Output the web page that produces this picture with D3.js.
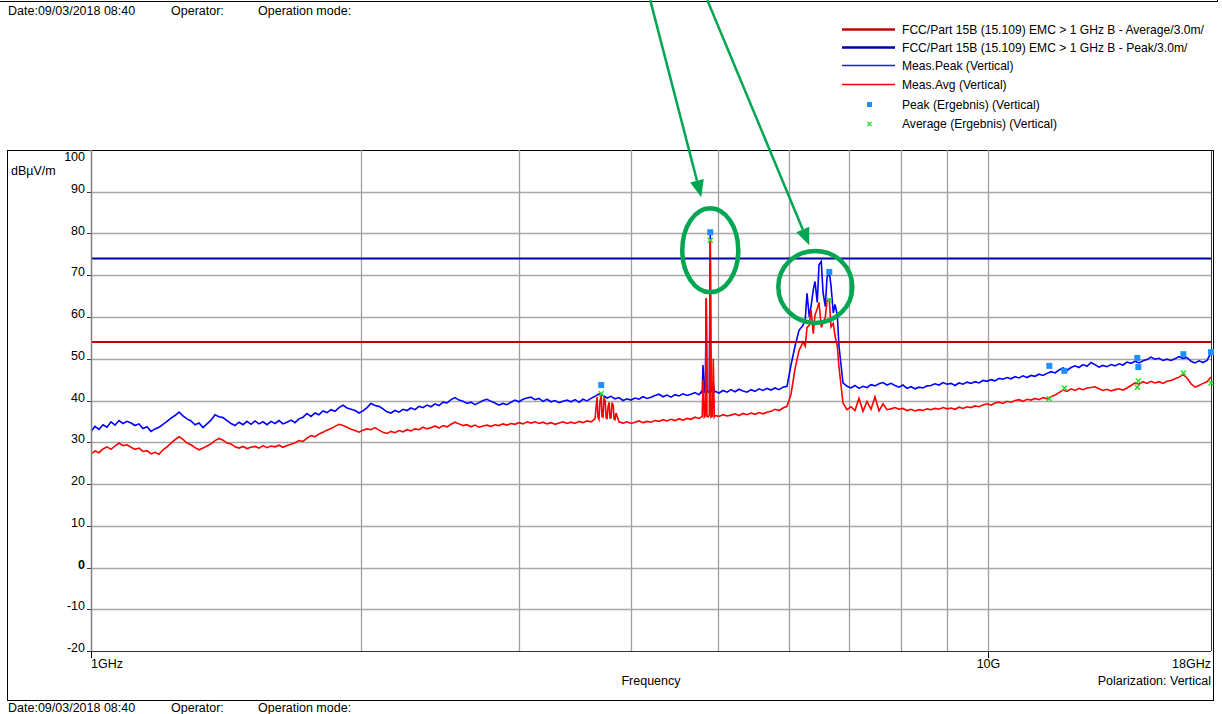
<!DOCTYPE html>
<html>
<head>
<meta charset="utf-8">
<script src="https://cdnjs.cloudflare.com/ajax/libs/d3/7.8.5/d3.min.js"></script>
<style>
body{margin:0;background:#fff;}
svg text{font-family:"Liberation Sans",Arial,sans-serif;font-size:12.5px;fill:#000;}
svg text.leg{font-size:12.1px;}
</style>
</head>
<body>
<svg id="chart" width="1222" height="714"></svg>
<script>
// sweep: log spaced points, 1 GHz .. end of axis
var fStart = 1, fStop = 17.7, nPts = 281;
var yTicks = [100, 90, 80, 70, 60, 50, 40, 30, 20, 10, 0, -10, -20];
var xGridGHz = [2, 3, 4, 5, 6, 7, 8, 9, 10];
var limitAvg = 54, limitPeak = 74;

var peakVals = [
 32.6,33.8,33.1,34.2,33.6,34.9,34.1,35.2,34.5,35.0,
 34.6,34.0,34.4,33.3,33.7,32.6,33.2,33.6,34.3,35.0,
 35.8,36.4,37.2,36.3,35.6,35.1,34.2,34.6,33.5,34.4,
 35.3,36.6,36.1,35.9,35.2,34.5,34.0,34.8,34.2,35.0,
 34.3,35.1,34.4,34.9,34.2,35.0,34.5,35.2,34.4,34.8,
 35.3,34.7,35.6,36.0,36.9,36.2,37.0,36.6,37.5,37.1,
 37.8,37.4,38.3,38.9,38.2,37.9,37.6,37.0,37.5,38.3,
 39.3,38.8,38.6,38.0,37.3,37.0,37.6,37.2,37.9,37.6,
 38.2,37.8,38.6,38.3,38.9,38.5,39.2,38.8,39.6,39.4,
 40.2,40.7,40.1,39.8,39.3,39.6,39.0,39.5,40.0,40.3,
 39.8,39.4,38.9,39.3,39.0,39.6,40.1,39.7,40.3,40.6,
 40.8,40.2,40.5,39.8,40.3,39.7,40.0,39.5,39.8,40.1,
 39.7,40.2,39.6,40.3,39.9,40.5,41.0,41.6,41.2,40.6,
 41.0,40.4,40.7,40.0,40.4,40.1,40.6,40.3,40.9,40.5,
 40.8,41.2,41.5,40.9,41.3,40.8,41.4,41.1,41.6,41.2,
 41.5,41.9,41.4,48.5,42.3,42.1,42.2,41.8,42.4,42.0,
 42.6,42.1,42.7,42.3,42.0,42.6,42.2,42.8,42.4,42.9,
 42.5,43.0,42.6,43.2,43.4,48.5,53.0,56.8,58.0,65.7,
 62.5,68.5,72.5,66.0,69.5,67.5,63.0,53.0,44.2,43.4,
 43.0,43.6,42.9,43.4,43.1,43.8,43.5,44.0,44.3,43.7,
 44.1,43.6,43.2,43.7,42.9,43.3,42.8,43.2,43.0,43.5,
 43.6,44.0,43.7,44.3,43.9,44.1,43.6,44.2,43.9,44.4,
 44.1,44.5,44.2,44.8,44.6,45.0,44.7,45.3,45.1,45.5,
 45.2,45.7,45.4,45.9,45.5,46.0,45.8,46.3,46.0,46.5,
 46.9,46.6,47.3,47.8,47.2,47.9,48.3,47.9,48.6,48.2,
 49.1,48.6,48.0,48.4,48.1,48.6,48.3,48.8,48.5,49.2,
 48.9,49.4,49.0,49.5,49.8,50.4,49.9,50.1,49.6,49.9,
 49.6,50.0,50.5,50.1,50.3,49.4,49.0,49.5,49.1,49.6,
 51.4];

var avgVals = [
 27.2,27.9,27.5,28.4,28.9,28.3,29.1,29.8,29.2,29.4,
 28.8,28.3,28.6,27.8,28.0,27.2,27.6,27.1,28.2,28.9,
 29.8,30.6,31.3,30.7,29.8,29.4,28.7,28.2,28.6,29.1,
 29.6,30.4,30.9,30.5,29.8,29.6,28.9,28.6,29.0,28.5,
 28.8,29.0,28.6,29.2,28.7,29.1,28.9,29.3,28.8,29.2,
 29.5,29.9,30.4,30.2,31.0,31.6,31.3,32.0,32.4,32.9,
 33.3,33.8,34.3,34.0,33.6,33.1,32.8,32.4,32.9,33.2,
 33.0,33.5,32.9,32.4,32.1,32.6,32.3,32.8,32.5,33.0,
 32.7,33.2,33.0,33.6,33.2,33.5,33.9,33.4,34.0,33.7,
 34.3,34.8,34.4,34.0,34.2,33.7,34.1,33.6,33.9,34.1,
 33.8,34.2,34.0,34.4,34.1,34.5,34.3,34.7,34.4,34.9,
 34.6,34.9,34.5,34.8,34.4,34.7,34.3,34.6,34.9,34.5,
 34.8,34.5,35.0,34.7,35.1,34.9,35.6,35.5,36.0,35.5,
 35.8,35.4,34.9,34.6,34.9,34.5,34.8,35.1,34.7,35.0,
 34.8,35.2,35.0,35.4,35.1,35.5,35.2,35.6,35.3,35.7,
 35.5,36.0,35.7,45.0,36.2,36.0,36.4,36.2,36.6,36.3,
 36.5,36.8,36.4,36.9,36.6,37.0,36.7,37.1,36.8,37.2,
 37.4,37.9,37.6,38.2,38.6,41.5,47.5,52.0,54.0,57.5,
 61.7,60.5,63.5,58.6,63.8,57.6,55.5,48.0,39.4,37.8,
 38.5,37.6,40.5,37.4,39.8,37.9,40.9,37.5,39.2,37.8,
 38.0,38.3,37.9,38.1,37.6,37.9,37.5,37.8,37.6,38.0,
 37.8,38.1,37.9,38.3,38.0,38.2,37.9,38.4,38.1,38.5,
 38.3,38.7,38.5,38.9,39.2,38.9,39.4,39.6,39.3,39.8,
 39.6,40.0,40.2,39.8,40.3,40.1,40.5,40.2,40.7,40.4,
 40.9,41.3,41.9,42.5,42.2,42.8,42.4,42.9,42.6,43.0,
 43.1,43.3,42.8,42.4,42.7,42.3,42.6,42.8,42.5,43.0,
 43.6,44.2,43.9,44.5,44.1,44.6,44.2,44.5,44.1,44.6,
 44.8,45.2,45.6,46.2,45.4,44.0,43.2,43.6,44.1,44.5,
 45.6];

// extra sweep points in the narrow spikes (GHz, dB)
var peakExtraF = [4.786,4.798,4.823,4.836,4.848,4.873,4.886,4.898,4.924,4.936,4.949,6.250,6.315,6.380,6.445,6.512,6.580,6.647,6.716,6.785];
var peakExtraV = [42.1,41.8,42.0,42.3,64.5,42.0,42.4,79.8,42.2,44.5,42.0,59.5,60.0,66.5,63.5,73.3,62.5,70.8,61.0,60.5];
var avgExtraF = [3.663,3.672,3.691,3.703,3.710,3.729,3.741,3.749,3.768,3.779,3.787,3.807,3.819,3.826,3.846,
                 4.786,4.798,4.823,4.836,4.848,4.873,4.886,4.898,4.924,4.936,4.949,
                 6.250,6.315,6.380,6.445,6.512,6.580,6.647,6.716,6.785];
var avgExtraV = [40.8,36.0,39.8,41.2,36.2,40.5,40.0,36.0,38.5,39.6,35.8,39.5,38.8,35.6,37.0,
                 36.0,36.2,36.0,36.3,64.5,36.1,36.5,78.4,36.2,50.0,36.1,
                 53.0,58.0,56.0,62.0,57.5,60.0,64.2,58.5,53.0];

// final measurement results
var peakMarkF = [3.703,4.898,6.647,11.69,12.15,14.65,14.69,16.49,17.7];
var peakMarkV = [43.7,80.3,70.8,48.3,47.1,50.2,48.0,51.1,51.6];
var avgMarkF = [3.703,4.898,6.647,11.69,12.15,14.65,14.69,16.49,17.7];
var avgMarkV = [41.6,78.4,64.0,40.4,43.0,43.2,44.7,46.6,44.2];

// green annotations (GHz, dB)
var arrowFrom = [[4.199,135.9],[4.861,135.9]];
var arrowTo = [[4.786,88.7],[6.315,77.2]];
var circleAt = [[4.898,76.0],[6.413,67.2]];

var legendNames = [
 "FCC/Part 15B (15.109) EMC > 1 GHz B - Average/3.0m/",
 "FCC/Part 15B (15.109) EMC > 1 GHz B - Peak/3.0m/",
 "Meas.Peak (Vertical)",
 "Meas.Avg (Vertical)",
 "Peak (Ergebnis) (Vertical)",
 "Average (Ergebnis) (Vertical)"];

function drawChart(){
    var svg = d3.select("#chart");
    var pL = 91, pR = 1211, pT = 150, pB = 651;

    var x = d3.scaleLog().domain([fStart, fStop]).range([pL, pR]);
    var y = d3.scaleLinear().domain([-20, 100]).range([pB, pT]);

    var freqs = d3.range(nPts).map(function(i){ return fStart * Math.pow(fStop / fStart, i / (nPts - 1)); });

    function trace(vals, exF, exV){
        var pts = freqs.map(function(f, i){ return [f, vals[i]]; });
        exF.forEach(function(f, i){ pts.push([f, exV[i]]); });
        pts.sort(function(a, b){ return a[0] - b[0]; });
        return pts;
    }
    var peakData = trace(peakVals, peakExtraF, peakExtraV);
    var avgData = trace(avgVals, avgExtraF, avgExtraV);

    // header / footer / frames
    svg.append("line").attr("x1", 0).attr("x2", 1217).attr("y1", 1.5).attr("y2", 1.5).attr("stroke", "#000");
    svg.append("line").attr("x1", 1217.5).attr("x2", 1217.5).attr("y1", 0).attr("y2", 2).attr("stroke", "#000");
    [[8, "Date:09/03/2018 08:40"], [171, "Operator:"], [258, "Operation mode:"]].forEach(function(t){
        svg.append("text").attr("x", t[0]).attr("y", 15).text(t[1]);
        svg.append("text").attr("x", t[0]).attr("y", 712).text(t[1]);
    });
    svg.append("rect").attr("x", 7.5).attr("y", 150.5).attr("width", 1206).attr("height", 550)
        .attr("fill", "none").attr("stroke", "#000");

    // grid
    var g = svg.append("g");
    g.selectAll(".hg").data(yTicks.filter(function(v){ return v > -20 && v < 100; }))
      .enter().append("line")
        .attr("x1", pL).attr("x2", pR)
        .attr("y1", function(d){ return Math.round(y(d)) + 0.5; })
        .attr("y2", function(d){ return Math.round(y(d)) + 0.5; })
        .attr("stroke", "#a8a8a8").attr("stroke-width", 1.3);
    g.selectAll(".vg").data(xGridGHz).enter().append("line")
        .attr("x1", function(d){ return Math.round(x(d)) + 0.5; })
        .attr("x2", function(d){ return Math.round(x(d)) + 0.5; })
        .attr("y1", pT).attr("y2", pB)
        .attr("stroke", "#a0a0a0").attr("stroke-width", 1.3);

    // y ticks + labels
    g.selectAll(".yt").data(yTicks).enter().append("line")
        .attr("x1", pL - 4).attr("x2", pL)
        .attr("y1", function(d){ return Math.round(y(d)) + 0.5; })
        .attr("y2", function(d){ return Math.round(y(d)) + 0.5; })
        .attr("stroke", "#333");
    g.selectAll(".yl").data(yTicks).enter().append("text")
        .attr("x", 85).attr("text-anchor", "end")
        .attr("y", function(d){ return d == 100 ? y(d) + 11 : y(d) + 1; })
        .style("font-weight", function(d){ return d == 0 ? "bold" : null; })
        .text(function(d){ return d; });
    svg.append("text").attr("x", 11).attr("y", 175).text("dBµV/m");

    // x ticks + labels
    [1, 10].forEach(function(f){
        g.append("line").attr("x1", Math.round(x(f)) + 0.5).attr("x2", Math.round(x(f)) + 0.5)
          .attr("y1", pB).attr("y2", pB + 7).attr("stroke", "#000");
    });
    svg.append("text").attr("x", x(1)).attr("y", 668).text("1GHz");
    svg.append("text").attr("x", x(10)).attr("y", 668).attr("text-anchor", "middle").text("10G");
    svg.append("text").attr("x", pR).attr("y", 668).attr("text-anchor", "end").text("18GHz");
    svg.append("text").attr("x", 651).attr("y", 685).attr("text-anchor", "middle").text("Frequency");
    svg.append("text").attr("x", pR).attr("y", 685).attr("text-anchor", "end").text("Polarization: Vertical");

    // traces
    svg.append("clipPath").attr("id", "clip").append("rect")
        .attr("x", pL).attr("y", pT).attr("width", pR - pL).attr("height", pB - pT);
    var plot = svg.append("g").attr("clip-path", "url(#clip)");
    var line = d3.line().x(function(d){ return x(d[0]); }).y(function(d){ return y(d[1]); });
    plot.append("path").datum(peakData).attr("d", line).attr("fill", "none").attr("stroke", "#0000ff").attr("stroke-width", 1.6);
    plot.append("path").datum(avgData).attr("d", line).attr("fill", "none").attr("stroke", "#ff0000").attr("stroke-width", 1.6);

    // limit lines
    plot.append("line").attr("x1", pL).attr("x2", pR).attr("y1", y(limitPeak)).attr("y2", y(limitPeak))
        .attr("stroke", "#0000a8").attr("stroke-width", 2);
    plot.append("line").attr("x1", pL).attr("x2", pR).attr("y1", y(limitAvg)).attr("y2", y(limitAvg))
        .attr("stroke", "#c00000").attr("stroke-width", 2);

    // axis box
    svg.append("line").attr("x1", pL + 0.5).attr("x2", pL + 0.5).attr("y1", pT).attr("y2", pB).attr("stroke", "#808080").attr("stroke-width", 1.5);
    svg.append("line").attr("x1", pL).attr("x2", pR).attr("y1", pB + 0.5).attr("y2", pB + 0.5).attr("stroke", "#333");
    svg.append("line").attr("x1", pR + 0.5).attr("x2", pR + 0.5).attr("y1", pT).attr("y2", pB).attr("stroke", "#333");

    // result markers
    var pk = peakMarkF.map(function(f, i){ return [f, peakMarkV[i]]; });
    var av = avgMarkF.map(function(f, i){ return [f, avgMarkV[i]]; });
    svg.selectAll(".pm").data(pk).enter().append("rect")
        .attr("x", function(d){ return x(d[0]) - 3; }).attr("y", function(d){ return y(d[1]) - 3; })
        .attr("width", 6).attr("height", 6).attr("fill", "#1e8fff");
    svg.selectAll(".am").data(av).enter().append("path")
        .attr("transform", function(d){ return "translate(" + x(d[0]) + "," + y(d[1]) + ")"; })
        .attr("d", "M-2.5,-2.5L2.5,2.5M-2.5,2.5L2.5,-2.5")
        .attr("stroke", "#22dd22").attr("stroke-width", 1.4);

    // legend
    var leg = svg.append("g");
    var rowY = [29.5, 47.5, 65.5, 84.5, 104, 123];
    var legStyle = [["#c00000", 2.5], ["#0000a8", 2.5], ["#1a1aff", 1.3], ["#ff0000", 1.3]];
    legendNames.forEach(function(name, i){
        var ly = rowY[i];
        if (i < 4) {
            leg.append("line").attr("x1", 842).attr("x2", 895).attr("y1", ly).attr("y2", ly)
              .attr("stroke", legStyle[i][0]).attr("stroke-width", legStyle[i][1]);
        } else if (i == 4) {
            leg.append("rect").attr("x", 867).attr("y", ly - 2).attr("width", 5).attr("height", 5).attr("fill", "#1e8fff");
        } else {
            leg.append("path").attr("transform", "translate(869.5," + (ly + 1) + ")")
              .attr("d", "M-2,-2L2,2M-2,2L2,-2").attr("stroke", "#22dd22").attr("stroke-width", 1.3);
        }
        leg.append("text").attr("class", "leg").attr("x", 902).attr("y", ly + 4.5).text(name);
    });

    // annotations
    var green = "#00a651";
    arrowFrom.forEach(function(a, i){
        var x1 = x(a[0]), y1 = y(a[1]), x2 = x(arrowTo[i][0]), y2 = y(arrowTo[i][1]);
        var ang = Math.atan2(y2 - y1, x2 - x1), hl = 17, hw = 7;
        var bx = x2 - hl * Math.cos(ang), by = y2 - hl * Math.sin(ang);
        svg.append("line").attr("x1", x1).attr("y1", y1).attr("x2", bx).attr("y2", by)
          .attr("stroke", green).attr("stroke-width", 2.5);
        svg.append("path").attr("d", "M" + x2 + "," + y2 +
            "L" + (bx + hw * Math.sin(ang)) + "," + (by - hw * Math.cos(ang)) +
            "L" + (bx - hw * Math.sin(ang)) + "," + (by + hw * Math.cos(ang)) + "Z")
          .attr("fill", green);
    });
    var radii = [[28, 42], [37, 36]];
    circleAt.forEach(function(c, i){
        svg.append("ellipse").attr("cx", x(c[0])).attr("cy", y(c[1]))
          .attr("rx", radii[i][0]).attr("ry", radii[i][1])
          .attr("fill", "none").attr("stroke", green).attr("stroke-width", 4.5);
    });
}
drawChart();
</script>
</body>
</html>
